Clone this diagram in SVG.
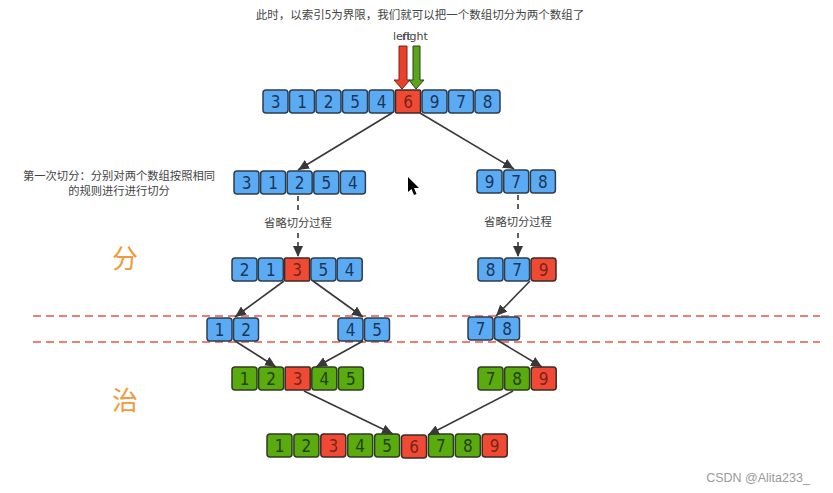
<svg xmlns="http://www.w3.org/2000/svg" width="833" height="493" viewBox="0 0 833 493">
<defs>
<style>
.b{fill:#5aabf4;stroke:#2e3d4c;stroke-width:1.5}
.r{fill:#f04a35;stroke:#3d2a26;stroke-width:1.5}
.g{fill:#5aab0e;stroke:#2f3d22;stroke-width:1.5}
.n{font-family:"DejaVu Sans",sans-serif;font-stretch:condensed;font-size:17px;text-anchor:middle;dominant-baseline:central}
.nb{fill:#1d3656}
.nr{fill:#7a2418}
.ng{fill:#263f0a}
.cn{font-family:"Noto Sans CJK SC",sans-serif;font-size:11.3px;fill:#444;text-anchor:middle}
.big{font-family:"Noto Sans CJK SC",sans-serif;font-size:26px;fill:#f09a3c;text-anchor:middle}
.ln{stroke:#383838;stroke-width:1.6;fill:none}
.dl{stroke:#383838;stroke-width:1.6;fill:none;stroke-dasharray:5 4}
.rd{stroke:#e2574a;stroke-width:1.6;stroke-dasharray:8 5;fill:none}
</style>
<marker id="ah" markerUnits="userSpaceOnUse" markerWidth="12" markerHeight="10" refX="11" refY="5" orient="auto">
<path d="M0,0 L11,5 L0,10 z" fill="#383838"/>
</marker>
</defs>
<rect width="833" height="493" fill="#fff"/>

<text x="420" y="19" class="cn" style="font-size:11.5px">此时，以索引5为界限，我们就可以把一个数组切分为两个数组了</text>

<g id="pointers">
<text x="393" y="40" font-family="DejaVu Sans,sans-serif" font-size="11" fill="#444">left</text>
<text x="402" y="40" font-family="DejaVu Sans,sans-serif" font-size="11" fill="#444">right</text>
<path d="M399,46 H407 V80 H410 L402,89 L394,80 H399 Z" fill="#e8412c" stroke="#7a2418" stroke-width="1"/>
<path d="M413,46 H420 V80 H424 L416,89 L409,80 H413 Z" fill="#5ba518" stroke="#2f3d22" stroke-width="1"/>
</g>

<g id="row0">
<rect class="b" x="263" y="90" width="25" height="23" rx="3"/><text class="n nb" x="275.5" y="101.5">3</text>
<rect class="b" x="289.5" y="90" width="25" height="23" rx="3"/><text class="n nb" x="302" y="101.5">1</text>
<rect class="b" x="316" y="90" width="25" height="23" rx="3"/><text class="n nb" x="328.5" y="101.5">2</text>
<rect class="b" x="342.5" y="90" width="25" height="23" rx="3"/><text class="n nb" x="355" y="101.5">5</text>
<rect class="b" x="369" y="90" width="25" height="23" rx="3"/><text class="n nb" x="381.5" y="101.5">4</text>
<rect class="r" x="395.5" y="90" width="25" height="23" rx="1"/><text class="n nr" x="408" y="101.5">6</text>
<rect class="b" x="422" y="90" width="25" height="23" rx="3"/><text class="n nb" x="434.5" y="101.5">9</text>
<rect class="b" x="448.5" y="90" width="25" height="23" rx="3"/><text class="n nb" x="461" y="101.5">7</text>
<rect class="b" x="475" y="90" width="25" height="23" rx="3"/><text class="n nb" x="487.5" y="101.5">8</text>
</g>

<g id="note1">
<text class="cn" x="119" y="180">第一次切分：分别对两个数组按照相同</text>
<text class="cn" x="119" y="195">的规则进行进行切分</text>
</g>

<g id="row1-left">
<rect class="b" x="234" y="171" width="25" height="23" rx="3"/><text class="n nb" x="246.5" y="182.5">3</text>
<rect class="b" x="260.6" y="171" width="25" height="23" rx="3"/><text class="n nb" x="273.1" y="182.5">1</text>
<rect class="b" x="287.2" y="171" width="25" height="23" rx="3"/><text class="n nb" x="299.7" y="182.5">2</text>
<rect class="b" x="313.8" y="171" width="25" height="23" rx="3"/><text class="n nb" x="326.3" y="182.5">5</text>
<rect class="b" x="340.4" y="171" width="25" height="23" rx="3"/><text class="n nb" x="352.9" y="182.5">4</text>
</g>

<g id="row1-right">
<rect class="b" x="477" y="170" width="25" height="23" rx="3"/><text class="n nb" x="489.5" y="181.5">9</text>
<rect class="b" x="503.7" y="170" width="25" height="23" rx="3"/><text class="n nb" x="516.2" y="181.5">7</text>
<rect class="b" x="530.4" y="170" width="25" height="23" rx="3"/><text class="n nb" x="542.9" y="181.5">8</text>
</g>

<g id="skip-left"><text class="cn" x="298" y="227">省略切分过程</text></g>
<g id="skip-right"><text class="cn" x="518" y="226">省略切分过程</text></g>

<g id="label-fen"><text class="big" x="125" y="268">分</text></g>
<g id="label-zhi"><text class="big" x="125" y="410">治</text></g>

<g id="row2-left">
<rect class="b" x="232" y="258" width="25" height="23" rx="3"/><text class="n nb" x="244.5" y="269.5">2</text>
<rect class="b" x="258.3" y="258" width="25" height="23" rx="3"/><text class="n nb" x="270.8" y="269.5">1</text>
<rect class="r" x="284.6" y="258" width="25" height="23" rx="1"/><text class="n nr" x="297.1" y="269.5">3</text>
<rect class="b" x="310.9" y="258" width="25" height="23" rx="3"/><text class="n nb" x="323.4" y="269.5">5</text>
<rect class="b" x="337.2" y="258" width="25" height="23" rx="3"/><text class="n nb" x="349.7" y="269.5">4</text>
</g>

<g id="row2-right">
<rect class="b" x="478" y="258" width="25" height="23" rx="3"/><text class="n nb" x="490.5" y="269.5">8</text>
<rect class="b" x="504.5" y="258" width="25" height="23" rx="3"/><text class="n nb" x="517" y="269.5">7</text>
<rect class="r" x="531" y="258" width="25" height="23" rx="3"/><text class="n nr" x="543.5" y="269.5">9</text>
</g>

<g id="bounds">
<line class="rd" x1="33" y1="316" x2="820" y2="316"/>
<line class="rd" x1="33" y1="342" x2="820" y2="342"/>
</g>

<g id="row3-a">
<rect class="b" x="207" y="318" width="25" height="23" rx="3"/><text class="n nb" x="219.5" y="329.5">1</text>
<rect class="b" x="233.5" y="318" width="25" height="23" rx="3"/><text class="n nb" x="246" y="329.5">2</text>
</g>
<g id="row3-b">
<rect class="b" x="338" y="318" width="25" height="23" rx="3"/><text class="n nb" x="350.5" y="329.5">4</text>
<rect class="b" x="364.5" y="318" width="25" height="23" rx="3"/><text class="n nb" x="377" y="329.5">5</text>
</g>
<g id="row3-c">
<rect class="b" x="468" y="317" width="25" height="23" rx="3"/><text class="n nb" x="480.5" y="328.5">7</text>
<rect class="b" x="494.5" y="317" width="25" height="23" rx="3"/><text class="n nb" x="507" y="328.5">8</text>
</g>

<g id="row4-left">
<rect class="g" x="232" y="367" width="25" height="23" rx="3"/><text class="n ng" x="244.5" y="378.5">1</text>
<rect class="g" x="258.6" y="367" width="25" height="23" rx="3"/><text class="n ng" x="271.1" y="378.5">2</text>
<rect class="r" x="285.2" y="367" width="25" height="23" rx="1"/><text class="n nr" x="297.7" y="378.5">3</text>
<rect class="g" x="311.8" y="367" width="25" height="23" rx="3"/><text class="n ng" x="324.3" y="378.5">4</text>
<rect class="g" x="338.4" y="367" width="25" height="23" rx="3"/><text class="n ng" x="350.9" y="378.5">5</text>
</g>

<g id="row4-right">
<rect class="g" x="478" y="367" width="25" height="23" rx="3"/><text class="n ng" x="490.5" y="378.5">7</text>
<rect class="g" x="504.6" y="367" width="25" height="23" rx="3"/><text class="n ng" x="517.1" y="378.5">8</text>
<rect class="r" x="531.2" y="367" width="25" height="23" rx="3"/><text class="n nr" x="543.7" y="378.5">9</text>
</g>

<g id="row5">
<rect class="g" x="267" y="434" width="25" height="23" rx="3"/><text class="n ng" x="279.5" y="445.5">1</text>
<rect class="g" x="293.9" y="434" width="25" height="23" rx="3"/><text class="n ng" x="306.4" y="445.5">2</text>
<rect class="r" x="320.8" y="434" width="25" height="23" rx="3"/><text class="n nr" x="333.3" y="445.5">3</text>
<rect class="g" x="347.7" y="434" width="25" height="23" rx="3"/><text class="n ng" x="360.2" y="445.5">4</text>
<rect class="g" x="374.6" y="434" width="25" height="23" rx="3"/><text class="n ng" x="387.1" y="445.5">5</text>
<rect class="r" x="401.5" y="435" width="25" height="23" rx="3"/><text class="n nr" x="414" y="446.5">6</text>
<rect class="g" x="428.4" y="434" width="25" height="23" rx="3"/><text class="n ng" x="440.9" y="445.5">7</text>
<rect class="g" x="455.3" y="434" width="25" height="23" rx="3"/><text class="n ng" x="467.8" y="445.5">8</text>
<rect class="r" x="482.2" y="434" width="25" height="23" rx="3"/><text class="n nr" x="494.7" y="445.5">9</text>
</g>

<g id="connectors">
<line class="ln" x1="392" y1="113" x2="298" y2="170" marker-end="url(#ah)"/>
<line class="ln" x1="420" y1="113" x2="514" y2="169" marker-end="url(#ah)"/>
<line class="dl" x1="298" y1="196" x2="298" y2="212"/>
<line class="dl" x1="298" y1="233" x2="298" y2="257" marker-end="url(#ah)"/>
<line class="dl" x1="518" y1="195" x2="518" y2="212"/>
<line class="dl" x1="518" y1="233" x2="518" y2="257" marker-end="url(#ah)"/>
<line class="ln" x1="284" y1="281" x2="235" y2="317" marker-end="url(#ah)"/>
<line class="ln" x1="313" y1="281" x2="363" y2="317" marker-end="url(#ah)"/>
<line class="ln" x1="530" y1="281" x2="496" y2="316" marker-end="url(#ah)"/>
<line class="ln" x1="235" y1="341" x2="276" y2="367" marker-end="url(#ah)"/>
<line class="ln" x1="363" y1="341" x2="316" y2="367" marker-end="url(#ah)"/>
<line class="ln" x1="497" y1="340" x2="542" y2="367" marker-end="url(#ah)"/>
<line class="ln" x1="304" y1="391" x2="393" y2="434" marker-end="url(#ah)"/>
<line class="ln" x1="513" y1="391" x2="428" y2="435" marker-end="url(#ah)"/>
</g>

<path id="cursor" d="M408,177 L408,192 L411.5,189 L414,195 L416.5,194 L414,188 L419,188 Z" fill="#000"/>

<text x="758" y="482" font-family="Liberation Sans,sans-serif" font-size="12.5" fill="#9a9a9a" text-anchor="middle">CSDN @Alita233_</text>
</svg>
